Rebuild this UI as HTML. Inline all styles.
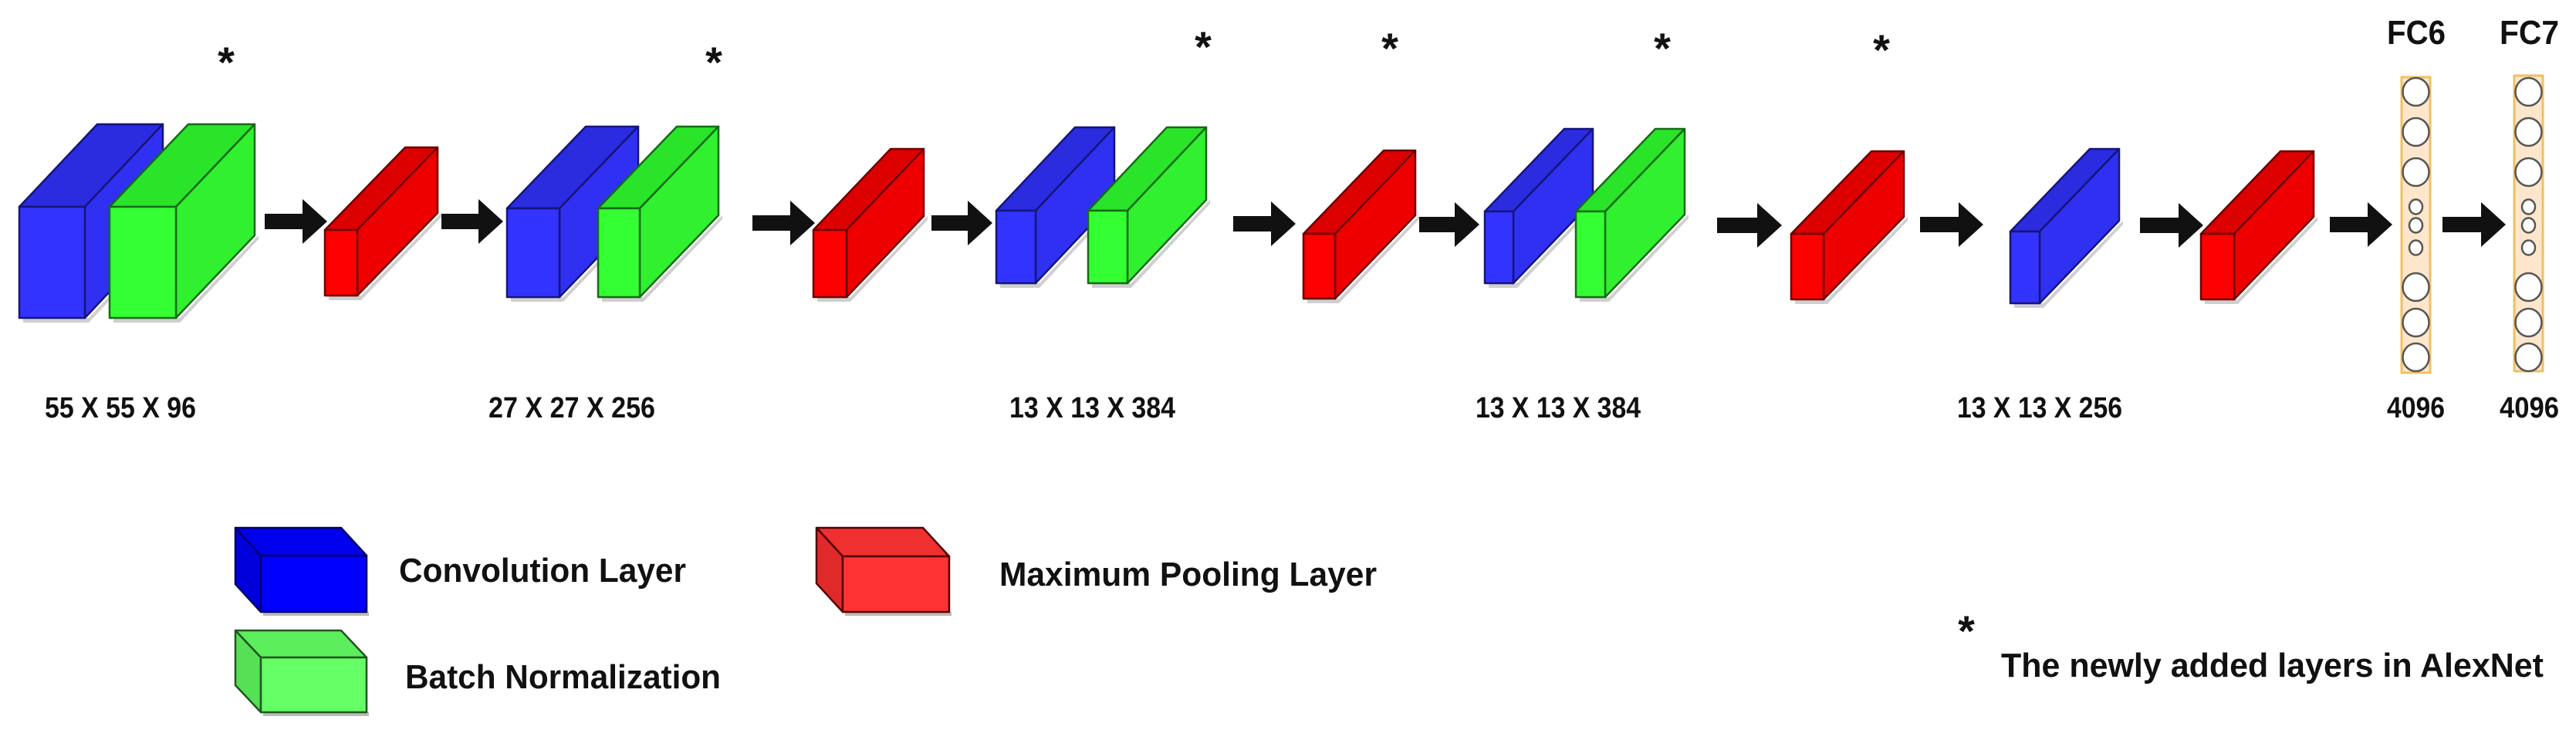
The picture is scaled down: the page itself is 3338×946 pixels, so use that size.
<!DOCTYPE html>
<html><head><meta charset="utf-8"><style>html,body{margin:0;padding:0;background:#fff}svg{display:block}</style></head>
<body>
<svg width="3338" height="946" viewBox="0 0 3338 946" xmlns="http://www.w3.org/2000/svg" font-family="'Liberation Sans', sans-serif" font-weight="bold">
<g stroke-linejoin="round">
<!-- blocks: top face, side face, front face -->
<g id="blocks" stroke-width="2.5"></g>
</g>
<script>
(function(){
var ns="http://www.w3.org/2000/svg";
var g=document.getElementById("blocks");
var C={b:["#3333ff","#2b2be0","#3030f2","#15157a"],g:["#33ff33","#2ae42a","#30f030","#156a15"],r:["#ff0000","#dd0000","#ee0000","#6a0000"]};
function poly(pts,fill,stroke){var p=document.createElementNS(ns,"polygon");p.setAttribute("points",pts.map(function(a){return a.join(",")}).join(" "));p.setAttribute("fill",fill);p.setAttribute("stroke",stroke);p.setAttribute("stroke-width","2.5");g.appendChild(p);}
function box(fx,fy,fw,fh,dx,dy,c){var k=C[c];
poly([[fx+5,fy+fh],[fx+fw+5,fy+fh],[fx+fw+dx+5,fy+fh+dy],[fx+fw+dx+5,fy+fh+dy+5],[fx+fw+5,fy+fh+6],[fx+5,fy+fh+6]],"#cfcfcf","none");
poly([[fx,fy],[fx+fw,fy],[fx+fw+dx,fy+dy],[fx+dx,fy+dy]],k[1],k[3]);
poly([[fx+fw,fy],[fx+fw+dx,fy+dy],[fx+fw+dx,fy+fh+dy],[fx+fw,fy+fh]],k[2],k[3]);
poly([[fx,fy],[fx+fw,fy],[fx+fw,fy+fh],[fx,fy+fh]],k[0],k[3]);}
function arrow(x1,x2,cy){var hx=x2-32;var p=document.createElementNS(ns,"polygon");
p.setAttribute("points",[x1,cy-10,hx,cy-10,hx,cy-29,x2,cy,hx,cy+29,hx,cy+10,x1,cy+10].join(" "));p.setAttribute("fill","#111");g.appendChild(p);}
box(25,268,85,144,101,-107,"b");
box(142,268,86,144,102,-107,"g");
box(421,298,42,85,104,-107,"r");
box(657,270,68,115,102,-106,"b");
box(775,270,54,115,102,-106,"g");
box(1054,298,43,87,100,-105,"r");
box(1291,273,51,94,102,-108,"b");
box(1410,273,51,94,102,-108,"g");
box(1689,303,41,84,104,-108,"r");
box(1924,274,37,93,103,-107,"b");
box(2042,274,38,111,103,-107,"g");
box(2321,303,42,85,104,-107,"r");
box(2605,300,38,93,103,-107,"b");
box(2852,303,43,85,103,-107,"r");
[[343,424,287],[572,652,287],[975,1056,289],[1207,1286,289],[1598,1679,290],[1839,1917,291],[2225,2309,292],[2488,2570,291],[2773,2855,292],[3019,3100,291],[3165,3247,291]].forEach(function(a){arrow(a[0],a[1],a[2]);});
function col(x,y1,y2){var r=document.createElementNS(ns,"rect");r.setAttribute("x",x);r.setAttribute("y",y1);r.setAttribute("width",37);r.setAttribute("height",y2-y1);r.setAttribute("fill","#fde6cc");r.setAttribute("stroke","#f0c060");r.setAttribute("stroke-width","3");g.appendChild(r);
var cx=x+18.5;[[119,17],[171,17],[223,17],[268,8.5],[292,8.5],[321,8.5],[372,17],[418,17],[463,17]].forEach(function(c){var e=document.createElementNS(ns,"ellipse");e.setAttribute("cx",cx);e.setAttribute("cy",c[0]);e.setAttribute("rx",c[1]);e.setAttribute("ry",c[1]+1);e.setAttribute("fill","#fff");e.setAttribute("stroke","#555");e.setAttribute("stroke-width","2.5");g.appendChild(e);});}
col(3112,100,483);col(3258,98,481);
// legend boxes
function lbox(bx,by,fx,fy,fr,fb,front,top,side,st){
poly([[fx+3,fb],[fr+3,fb],[fr+3,fb+5],[fx+3,fb+5]],"#bbb","none");
poly([[bx,by],[fr-(fx-bx),by],[fr,fy],[fx,fy]],top,st);
poly([[bx,by],[fx,fy],[fx,fb],[bx,fb-(fy-by)]],side,st);
poly([[fx,fy],[fr,fy],[fr,fb],[fx,fb]],front,st);}
lbox(305,684,338,720,475,793,"#0000ff","#0000ee","#0000dd","#000066");
lbox(305,817,338,852,475,923,"#66ff66","#5cee5c","#55e055","#225522");
lbox(1058,684,1092,721,1230,793,"#ff3333","#f03030","#e02a2a","#550000");
})();
</script>
<g fill="#111" font-size="56" text-anchor="middle">
<text x="293" y="100">*</text>
<text x="925" y="100">*</text>
<text x="1559" y="80">*</text>
<text x="1801" y="82">*</text>
<text x="2154" y="82">*</text>
<text x="2438" y="84">*</text>
<text x="2548" y="837">*</text>
</g>
<g fill="#111" font-size="38" lengthAdjust="spacingAndGlyphs">
<text x="58" y="541" textLength="196" lengthAdjust="spacingAndGlyphs">55 X 55 X 96</text>
<text x="633" y="541" textLength="216" lengthAdjust="spacingAndGlyphs">27 X 27 X 256</text>
<text x="1308" y="541" textLength="215" lengthAdjust="spacingAndGlyphs">13 X 13 X 384</text>
<text x="1912" y="541" textLength="214" lengthAdjust="spacingAndGlyphs">13 X 13 X 384</text>
<text x="2536" y="541" textLength="214" lengthAdjust="spacingAndGlyphs">13 X 13 X 256</text>
<text x="3093" y="541" textLength="75" lengthAdjust="spacingAndGlyphs">4096</text>
<text x="3239" y="541" textLength="77" lengthAdjust="spacingAndGlyphs">4096</text>
</g>
<g fill="#111" font-size="44">
<text x="3093" y="57" textLength="76" lengthAdjust="spacingAndGlyphs">FC6</text>
<text x="3239" y="57" textLength="77" lengthAdjust="spacingAndGlyphs">FC7</text>
<text x="517" y="754" textLength="372" lengthAdjust="spacingAndGlyphs">Convolution Layer</text>
<text x="525" y="892" textLength="409" lengthAdjust="spacingAndGlyphs">Batch Normalization</text>
<text x="1295" y="759" textLength="489" lengthAdjust="spacingAndGlyphs">Maximum Pooling Layer</text>
<text x="2593" y="877" textLength="703" lengthAdjust="spacingAndGlyphs">The newly added layers in AlexNet</text>
</g>
</svg>
</body></html>
